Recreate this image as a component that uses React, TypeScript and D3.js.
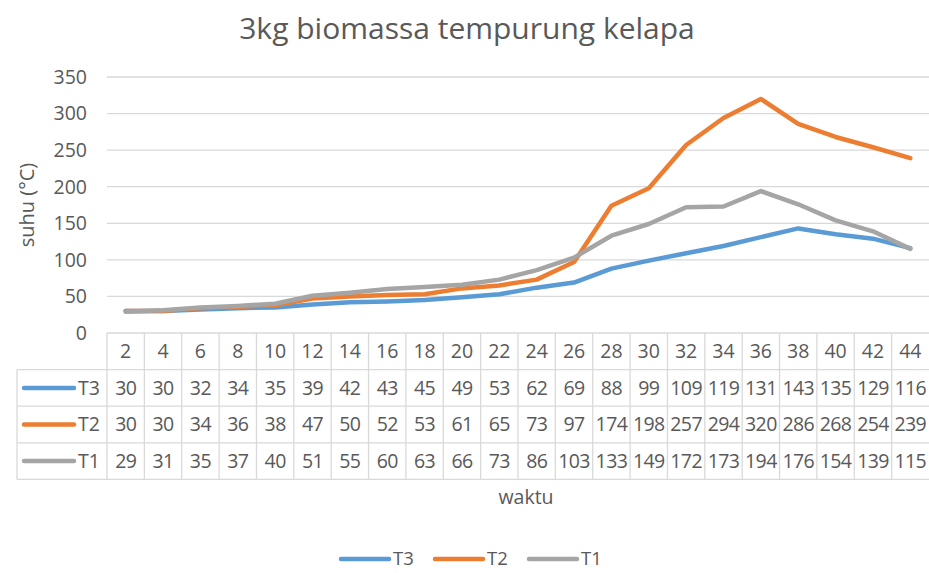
import React from 'react';
import * as d3 from 'd3';

// chart data
const waktu = ['2', '4', '6', '8', '10', '12', '14', '16', '18', '20', '22', '24', '26', '28', '30', '32', '34', '36', '38', '40', '42', '44'];
const t3 = [30, 30, 32, 34, 35, 39, 42, 43, 45, 49, 53, 62, 69, 88, 99, 109, 119, 131, 143, 135, 129, 116];
const t2 = [30, 30, 34, 36, 38, 47, 50, 52, 53, 61, 65, 73, 97, 174, 198, 257, 294, 320, 286, 268, 254, 239];
const t1 = [29, 31, 35, 37, 40, 51, 55, 60, 63, 66, 73, 86, 103, 133, 149, 172, 173, 194, 176, 154, 139, 115];
const yTicks = [0, 50, 100, 150, 200, 250, 300, 350];
const seriesNames = ['T3', 'T2', 'T1'];
const seriesColors = ['#5b9bd5', '#ed7d31', '#a5a5a5'];

const W = 929;
const H = 573;
const FONT = '"Open Sans", "Liberation Sans", sans-serif';
const TEXT = '#595959';
const GRID = '#d9d9d9';
const FS = 19.5;

const App = () => {
  const series = [t3, t2, t1];
  const plotLeft = 107;
  const plotRight = 929;
  const plotTop = 77;
  const plotBottom = 333;
  const rowH = 36.6;
  const tableLeft = 17;

  const x = d3.scaleBand().domain(waktu).range([plotLeft, plotRight]);
  const y = d3.scaleLinear().domain([0, 350]).range([plotBottom, plotTop]);

  const line = d3.line<number>()
    .x((d, i) => (x(waktu[i]) as number) + x.bandwidth() / 2)
    .y(d => y(d));

  // table row boundaries: header row then one row per series
  const rowTops = [0, 1, 2, 3, 4].map(i => plotBottom + i * rowH);

  return (
    <svg width={W} height={H} style={{ position: 'absolute', left: 0, top: 0, background: '#fff' }} fontFamily={FONT}>
      {/* title */}
      <text x={467} y={39} textAnchor="middle" fontSize={30} fill={TEXT}>3kg biomassa tempurung kelapa</text>

      {/* gridlines */}
      {yTicks.filter(t => t > 0).map(t => (
        <line key={t} x1={plotLeft} x2={plotRight} y1={y(t)} y2={y(t)} stroke={GRID} strokeWidth={1.3} />
      ))}

      {/* y tick labels */}
      {yTicks.map(t => (
        <text key={t} x={87} y={y(t)} dy="0.35em" textAnchor="end" fontSize={FS} fill={TEXT}>{t}</text>
      ))}

      {/* y axis title */}
      <text transform={`translate(34,205) rotate(-90)`} textAnchor="middle" fontSize={20} fill={TEXT}>suhu (°C)</text>

      {/* data table grid */}
      <g stroke={GRID} strokeWidth={1.3}>
        <line x1={plotLeft} x2={plotRight} y1={rowTops[0]} y2={rowTops[0]} />
        {rowTops.slice(1).map((r, i) => (
          <line key={i} x1={tableLeft} x2={plotRight} y1={r} y2={r} />
        ))}
        <line x1={tableLeft} x2={tableLeft} y1={rowTops[1]} y2={rowTops[4]} />
        {waktu.map(w => (
          <line key={w} x1={x(w)} x2={x(w)} y1={rowTops[0]} y2={rowTops[4]} />
        ))}
      </g>

      {/* header row: waktu categories */}
      {waktu.map(w => (
        <text key={w} x={(x(w) as number) + x.bandwidth() / 2} y={rowTops[0] + rowH / 2} dy="0.35em" textAnchor="middle" fontSize={FS} fill={TEXT}>{w}</text>
      ))}

      {/* series rows */}
      {series.map((s, si) => {
        const cy = rowTops[si + 1] + rowH / 2;
        return (
          <g key={si}>
            <line x1={24} x2={74} y1={cy} y2={cy} stroke={seriesColors[si]} strokeWidth={4.5} strokeLinecap="round" />
            <text x={78} y={cy} dy="0.35em" fontSize={FS} fill={TEXT}>{seriesNames[si]}</text>
            {s.map((v, i) => (
              <text key={i} x={(x(waktu[i]) as number) + x.bandwidth() / 2} y={cy} dy="0.35em" textAnchor="middle" fontSize={FS} fill={TEXT} letterSpacing={-0.6}>{v}</text>
            ))}
          </g>
        );
      })}

      {/* lines */}
      {series.map((s, si) => (
        <path key={si} d={line(s) as string} fill="none" stroke={seriesColors[si]} strokeWidth={4.5} strokeLinejoin="round" strokeLinecap="round" />
      ))}

      {/* x axis title */}
      <text x={526} y={497} dy="0.35em" textAnchor="middle" fontSize={FS} fill={TEXT}>waktu</text>

      {/* legend */}
      {seriesNames.map((n, i) => {
        const lx = 341 + i * 94;
        return (
          <g key={n}>
            <line x1={lx} x2={lx + 48} y1={559} y2={559} stroke={seriesColors[i]} strokeWidth={4.5} strokeLinecap="round" />
            <text x={lx + 52} y={559} dy="0.35em" fontSize={18.5} fill={TEXT}>{n}</text>
          </g>
        );
      })}
    </svg>
  );
};

export default App;
